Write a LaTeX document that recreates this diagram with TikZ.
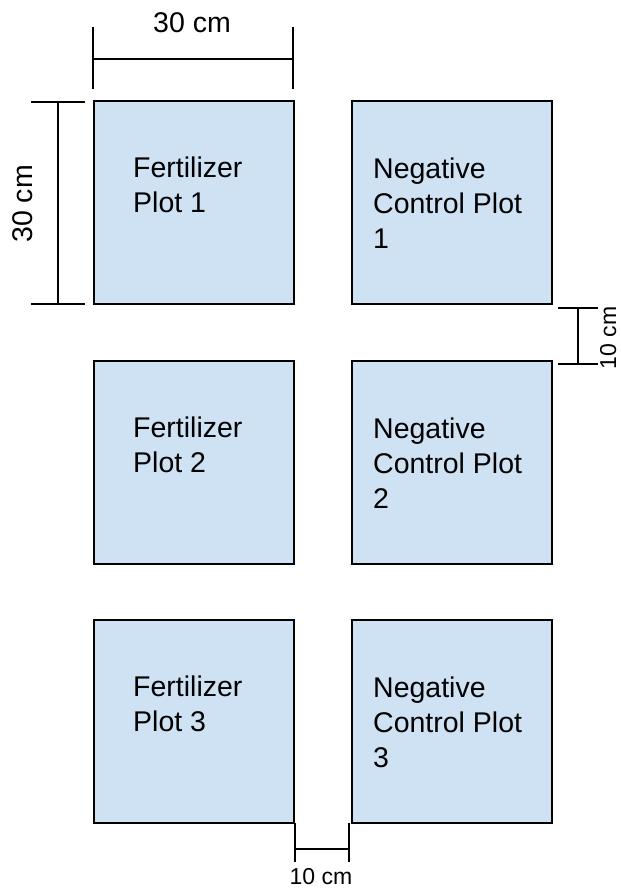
\documentclass[tikz,border=0pt]{standalone}
\usepackage{fontspec}
\setmainfont{Liberation Sans}
\definecolor{plotfill}{HTML}{CFE2F3}
\begin{document}
\begin{tikzpicture}[x=1pt,y=-1pt,
  plotbox/.style={draw=black, fill=plotfill, line width=1.6pt, minimum width=200pt, minimum height=203pt, inner sep=0pt, anchor=north west},
  plotlabel/.style={anchor=base west, align=left, inner sep=0pt, font=\fontsize{28.5}{35}\selectfont},
  bigdim/.style={inner sep=0pt, font=\fontsize{28.5}{35}\selectfont},
  smalldim/.style={inner sep=0pt, font=\fontsize{23}{27}\selectfont},
  dimline/.style={line width=1.3pt}]
\useasboundingbox (0,0) rectangle (621,892);
% plots
\node[plotbox] (f1) at (93,100) {};
\node[plotbox] (n1) at (351,100) {};
\node[plotbox] (f2) at (93,360) {};
\node[plotbox] (n2) at (351,360) {};
\node[plotbox] (f3) at (93,619) {};
\node[plotbox] (n3) at (351,619) {};
% labels (anchor base = baseline of last line)
\node[plotlabel] (tf1) at (133,212) {Fertilizer\\Plot 1};
\node[plotlabel] (tn1) at (373,248) {Negative\\Control Plot\\1};
\node[plotlabel] (tf2) at (133,472) {Fertilizer\\Plot 2};
\node[plotlabel] (tn2) at (373,508) {Negative\\Control Plot\\2};
\node[plotlabel] (tf3) at (133,731) {Fertilizer\\Plot 3};
\node[plotlabel] (tn3) at (373,767) {Negative\\Control Plot\\3};
% top dimension
\coordinate (ta1) at (93,27); \coordinate (ta2) at (93,89);
\coordinate (tb1) at (293,27); \coordinate (tb2) at (293,89);
\coordinate (tl) at (93,59); \coordinate (tr) at (293,59);
\draw[dimline] (ta1) -- (ta2);
\draw[dimline] (tb1) -- (tb2);
\draw[dimline] (tl) -- (tr);
\node[bigdim, anchor=base] (tdim) at (192,32) {30 cm};
% left dimension
\coordinate (la1) at (31,102); \coordinate (la2) at (85,102);
\coordinate (lb1) at (31,304); \coordinate (lb2) at (85,304);
\coordinate (lt) at (58,102); \coordinate (lbm) at (58,304);
\draw[dimline] (la1) -- (la2);
\draw[dimline] (lb1) -- (lb2);
\draw[dimline] (lt) -- (lbm);
\node[bigdim, rotate=90, anchor=base] (ldim) at (32,204) {30 cm};
% right dimension
\coordinate (ra1) at (558,308); \coordinate (ra2) at (598,308);
\coordinate (rb1) at (558,364); \coordinate (rb2) at (598,364);
\coordinate (rt) at (578,308); \coordinate (rbm) at (578,364);
\draw[dimline] (ra1) -- (ra2);
\draw[dimline] (rb1) -- (rb2);
\draw[dimline] (rt) -- (rbm);
\node[smalldim, rotate=90, anchor=base] (rdim) at (616,338) {10 cm};
% bottom dimension
\coordinate (ba1) at (295,823); \coordinate (ba2) at (295,862);
\coordinate (bb1) at (349,823); \coordinate (bb2) at (349,862);
\coordinate (bl) at (295,849); \coordinate (br) at (349,849);
\draw[dimline] (ba1) -- (ba2);
\draw[dimline] (bb1) -- (bb2);
\draw[dimline] (bl) -- (br);
\node[smalldim, anchor=base] (bdim) at (321,884) {10 cm};
\end{tikzpicture}
\end{document}
